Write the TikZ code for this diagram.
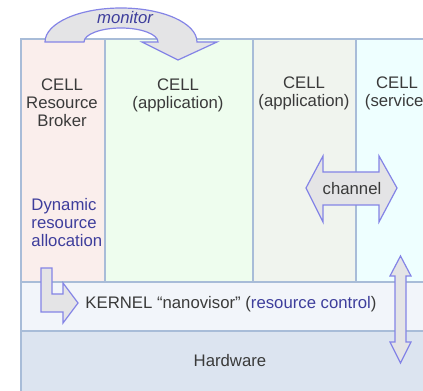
\documentclass[tikz,border=0pt]{standalone}
\usepackage{fontspec}
\setmainfont{Liberation Sans}
\usepackage{tikz}

\definecolor{cellline}{HTML}{A8BCD8}
\definecolor{brokerfill}{HTML}{FAEEEC}
\definecolor{appfill}{HTML}{EEFDEE}
\definecolor{apptwofill}{HTML}{F0F4EE}
\definecolor{servicefill}{HTML}{EEFFFF}
\definecolor{kernelfill}{HTML}{F2F5FA}
\definecolor{hardfill}{HTML}{DCE4F0}
\definecolor{arrowline}{HTML}{8484E6}
\definecolor{arrowfill}{HTML}{E4E4E6}
\definecolor{textgray}{HTML}{3A3A3A}
\definecolor{textblue}{HTML}{3E3E9C}

\begin{document}
\begin{tikzpicture}[x = 0.25mm, y = -0.25mm, line width = 0.4mm,
    cell/.style = {draw = cellline, line width = 0.3mm},
    blockarrow/.style = {draw = arrowline, fill = arrowfill, line width = 0.3mm, line join = miter},
    label/.style = {text = textgray, align = center, font = \fontsize{11.9}{12.8}\selectfont}]

        \clip (0, 0) rectangle (423, 391);

        % Four cells side by side.
        \draw[cell, fill = brokerfill] (21, 39) rectangle (105, 282);
        \draw[cell, fill = appfill] (105, 39) rectangle (253, 282);
        \draw[cell, fill = apptwofill] (253, 39) rectangle (356, 282);
        \draw[cell, fill = servicefill] (356, 39) rectangle (440, 282);

        % Kernel band and hardware below it.
        \draw[cell, fill = kernelfill] (21, 282) rectangle (440, 331);
        \draw[cell, fill = hardfill] (21, 331) rectangle (440, 410);

        % Curved arrow from the broker into the first application.
        \draw[blockarrow] (45, 42) .. controls (45, 23.2) and (79, 8) .. (121, 8)
            .. controls (163, 8) and (197, 23.2) .. (197, 42)
            -- (217, 42) -- (178, 60) -- (142, 42) -- (158, 42)
            .. controls (158, 34.3) and (141.4, 28) .. (121, 28)
            .. controls (100.6, 28) and (84, 34.3) .. (84, 42) -- cycle;

        % Double arrow between the two right cells.
        \draw[blockarrow] (306, 188) -- (323, 156) -- (323, 172) -- (379, 172)
            -- (379, 156) -- (397, 188) -- (379, 222) -- (379, 205)
            -- (323, 205) -- (323, 222) -- cycle;

        % Vertical double arrow down to the hardware.
        \draw[blockarrow] (400.5, 256) -- (411, 276) -- (406, 276) -- (406, 342)
            -- (411, 342) -- (400.5, 363) -- (390, 342) -- (395, 342)
            -- (395, 276) -- (390, 276) -- cycle;

        % Bent arrow from the broker into the kernel.
        \draw[blockarrow] (41, 268) -- (52, 268) -- (52, 294) -- (63, 294)
            -- (63, 283) -- (78, 303) -- (63, 323) -- (63, 312)
            -- (41, 312) -- cycle;

        % Texts.
        \node[label] (broker) at (62, 103) {CELL\\Resource\\Broker};
        \node[label] (appone) at (178, 95) {CELL\\(application)};
        \node[label] (apptwo) at (304, 93) {CELL\\(application)};
        \node[label] (service) at (397, 93) {CELL\\(service)};
        \node[label, text = textblue, align = left, anchor = west] (dynamic) at (26, 223)
            {Dynamic\\resource\\allocation};
        \node[label] (channel) at (352, 189) {channel};
        \node[label, anchor = west] (kernel) at (80, 304)
            {KERNEL “nanovisor” ({\color{textblue}resource control})};
        \node[label] (hardware) at (230, 361) {Hardware};
        \node[label, text = textblue, font = \fontsize{11.9}{12.8}\selectfont\itshape] (monitor) at (125, 18) {monitor};
    \end{tikzpicture}
\end{document}
